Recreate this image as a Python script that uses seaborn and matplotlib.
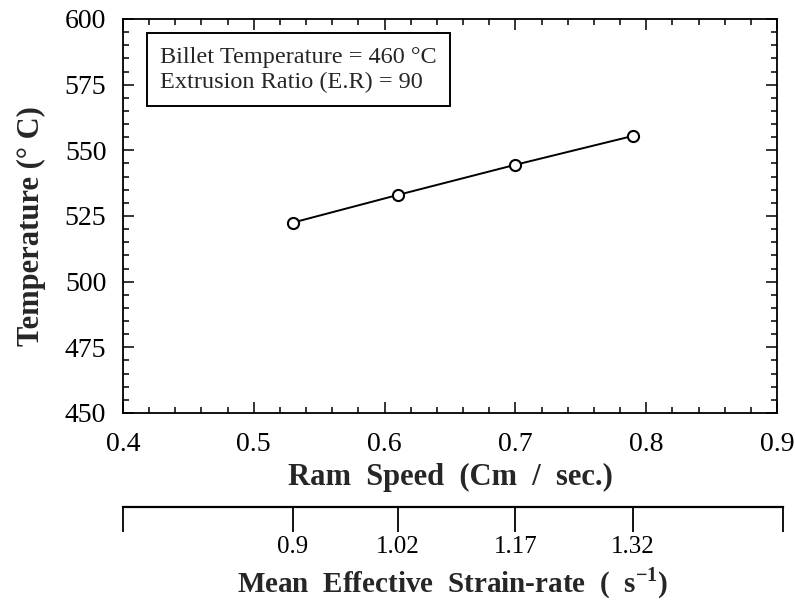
import numpy as np
import matplotlib
matplotlib.use('Agg')
import matplotlib.pyplot as plt
from matplotlib.ticker import MultipleLocator
import seaborn as sns

# data
ram_speed = [0.53, 0.61, 0.70, 0.79]
temperature = [522.5, 533.0, 544.5, 555.5]
strain_rate_labels = ["0.9", "1.02", "1.17", "1.32"]

sns.set_theme(style="ticks")
plt.rcParams['font.family'] = ['Liberation Serif', 'DejaVu Serif']
plt.rcParams['mathtext.fontset'] = 'custom'
plt.rcParams['mathtext.rm'] = 'Liberation Serif'
plt.rcParams['mathtext.bf'] = 'Liberation Serif:bold'
plt.rcParams['axes.edgecolor'] = 'black'
plt.rcParams['axes.linewidth'] = 1.3

fig = plt.figure(figsize=(7.95, 6), dpi=100)
W, H = 795, 600
ax = fig.add_axes([123 / W, 1 - 413 / H, (777 - 123) / W, (413 - 19) / H])

sns.lineplot(x=ram_speed, y=temperature, ax=ax, color='black', linewidth=1.4,
             marker='o', markersize=8, markerfacecolor='white',
             markeredgecolor='black', markeredgewidth=1.5)

ax.set_xlim(0.4, 0.9)
ax.set_ylim(450, 600)
ax.xaxis.set_major_locator(MultipleLocator(0.1))
ax.xaxis.set_minor_locator(MultipleLocator(0.02))
ax.yaxis.set_major_locator(MultipleLocator(25))
ax.yaxis.set_minor_locator(MultipleLocator(5))
ax.tick_params(which='both', direction='in', top=True, right=True,
               colors='black', width=1.1)
ax.tick_params(which='major', length=8, labelsize=20)
ax.tick_params(axis='x', which='major', pad=14)
ax.tick_params(axis='y', which='major', pad=12)
ax.tick_params(which='minor', length=4)
ax.set_xticklabels([f"{v:.1f}" for v in ax.get_xticks()])

ax.set_xlabel("Ram  Speed  (Cm  /  sec.)", fontsize=22, fontweight='bold', labelpad=4)
ax.set_ylabel("Temperature (° C)", fontsize=22, fontweight='bold')
ax.yaxis.set_label_coords(-0.118, 0.475)

ax.text(0.057, 0.93,
        "Billet Temperature = 460 °C\nExtrusion Ratio (E.R) = 90",
        transform=ax.transAxes, fontsize=17.5, va='top', ha='left',
        linespacing=1.25,
        bbox=dict(boxstyle='square,pad=0.55', facecolor='white',
                  edgecolor='black', linewidth=1.4))

# secondary strain-rate scale
ax2 = fig.add_axes([123 / W, 1 - 507 / H, (783 - 123) / W, 0.001])
ax2.patch.set_visible(False)
for s in ['top', 'left', 'right']:
    ax2.spines[s].set_visible(False)
ax2.spines['bottom'].set_linewidth(1.6)
x_hi = 0.4 + 660 / 1308
ax2.set_xlim(0.4, x_hi)
ax2.set_yticks([])
ax2.set_xticks([0.4] + ram_speed + [x_hi])
ax2.set_xticklabels([""] + strain_rate_labels + [""])
ax2.tick_params(axis='x', direction='out', length=18, width=1.3,
                labelsize=18, pad=3, colors='black')
ax2.set_xlabel("Mean  Effective  Strain-rate  (  s$^{\\mathbf{-1}}$)",
               fontsize=21, fontweight='bold', labelpad=5)

fig.savefig('out.png', dpi=100, facecolor='white')
